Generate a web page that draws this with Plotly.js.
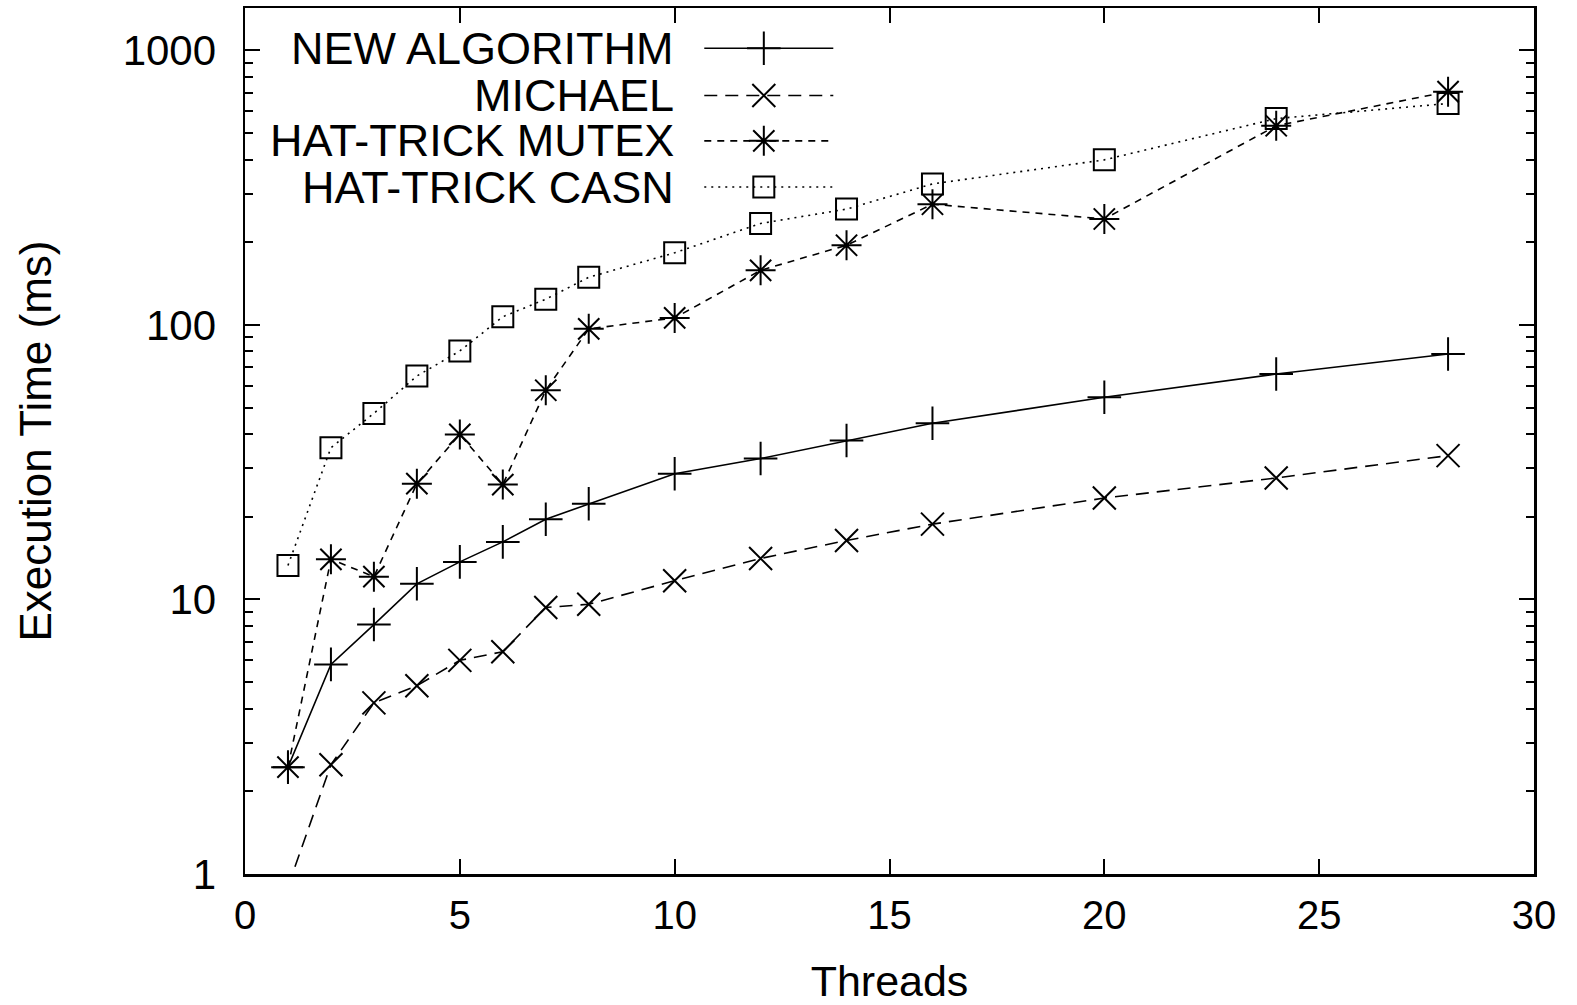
<!DOCTYPE html>
<html>
<head>
<meta charset="utf-8">
<script src="https://cdn.plot.ly/plotly-3.0.1.min.js"></script>
<style>html,body{margin:0;padding:0;background:#fff;}#chart{width:1577px;height:1005px;}</style>
</head>
<body>
<div id="chart"></div>
<script>
// ---- data ----
const threads = [1, 2, 3, 4, 5, 6, 7, 8, 10, 12, 14, 16, 20, 24, 28];
const newAlgorithm = [2.45, 5.8, 8.1, 11.4, 13.7, 16.2, 19.6, 22.3, 28.7, 32.6, 37.9, 43.8, 54.5, 66.2, 78.3];
const michael = [0.9, 2.5, 4.2, 4.85, 6.0, 6.45, 9.35, 9.6, 11.7, 14.1, 16.4, 18.8, 23.4, 27.7, 33.4];
const hatTrickMutex = [2.45, 14.0, 12.1, 26.4, 39.9, 26.2, 57.8, 96.7, 106, 158, 195, 275, 243, 531, 707];
const hatTrickCasn = [13.3, 35.7, 47.6, 65.1, 80.3, 107, 124, 149, 183, 234, 264, 326, 399, 564, 640];
const seriesNames = ["NEW ALGORITHM", "MICHAEL", "HAT-TRICK MUTEX", "HAT-TRICK CASN"];
const xTickVals = [0, 5, 10, 15, 20, 25, 30];

// ---- styles ----
const FONT = "Liberation Sans, Arial, Helvetica, sans-serif";
const styles = [
  {dash: "solid", symbol: "cross-thin-open", size: 24},
  {dash: "13px,8px", symbol: "x-thin-open", size: 23},
  {dash: "7px,6px", symbol: "asterisk-open", size: 25},
  {dash: "2px,5px", symbol: "square-open", size: 21}
];
const seriesData = [newAlgorithm, michael, hatTrickMutex, hatTrickCasn];

const traces = seriesData.map((ys, i) => ({
  x: threads, y: ys, type: "scatter", mode: "lines+markers",
  name: seriesNames[i], showlegend: false, cliponaxis: true,
  line: {color: "black", width: 1.6, dash: styles[i].dash},
  marker: {symbol: styles[i].symbol, size: styles[i].size, color: "black",
           line: {color: "black", width: 2}}
}));

// legend keys drawn on an overlay axis pair in [0,1] coordinates
const legRows = [0.9535, 0.899, 0.8466, 0.7933];
const legLineX = [0.3563, 0.4564];
const legMarkX = 0.4025;
seriesNames.forEach((n, i) => {
  traces.push({
    x: legLineX, y: [legRows[i], legRows[i]], xaxis: "x2", yaxis: "y2",
    type: "scatter", mode: "lines", showlegend: false, hoverinfo: "skip",
    line: {color: "black", width: 1.6, dash: styles[i].dash}
  });
  traces.push({
    x: [legMarkX], y: [legRows[i]], xaxis: "x2", yaxis: "y2",
    type: "scatter", mode: "markers", showlegend: false, hoverinfo: "skip",
    marker: {symbol: styles[i].symbol, size: styles[i].size, color: "black",
             line: {color: "black", width: 2}}
  });
});

const annotations = seriesNames.map((n, i) => ({
  xref: "paper", yref: "paper", x: 0.3345, y: legRows[i],
  xanchor: "right", yanchor: "middle", text: n, showarrow: false,
  font: {family: FONT, size: 45, color: "black"}
}));

const layout = {
  width: 1577, height: 1005,
  margin: {l: 244.5, r: 43, t: 8, b: 131, pad: 0},
  paper_bgcolor: "white", plot_bgcolor: "white",
  font: {family: FONT, color: "black", size: 44},
  showlegend: false,
  xaxis: {
    range: [0, 30], tickmode: "array", tickvals: xTickVals,
    ticks: "inside", ticklen: 15, tickwidth: 2, tickcolor: "black",
    ticklabelstandoff: 4,
    showline: true, linewidth: 2.5, linecolor: "black", mirror: "allticks",
    showgrid: false, zeroline: false,
    tickfont: {family: FONT, size: 40, color: "black"},
    title: {text: "Threads", font: {family: FONT, size: 43, color: "black"}, standoff: 32}
  },
  yaxis: {
    type: "log", range: [0, 3.154], tickmode: "linear", tick0: 0, dtick: 1,
    exponentformat: "none",
    ticks: "inside", ticklen: 15, tickwidth: 2, tickcolor: "black",
    ticklabelstandoff: 18,
    minor: {ticks: "inside", ticklen: 8, tickwidth: 2, tickcolor: "black", dtick: "D1", showgrid: false},
    showline: true, linewidth: 2.5, linecolor: "black", mirror: "allticks",
    showgrid: false, zeroline: false,
    tickfont: {family: FONT, size: 42, color: "black"},
    title: {text: "Execution Time (ms)", font: {family: FONT, size: 44, color: "black"}, standoff: 58}
  },
  xaxis2: {overlaying: "x", range: [0, 1], visible: false, fixedrange: true},
  yaxis2: {overlaying: "y", range: [0, 1], visible: false, fixedrange: true},
  annotations: annotations
};

Plotly.newPlot("chart", traces, layout, {displayModeBar: false, staticPlot: true});
</script>
</body>
</html>
